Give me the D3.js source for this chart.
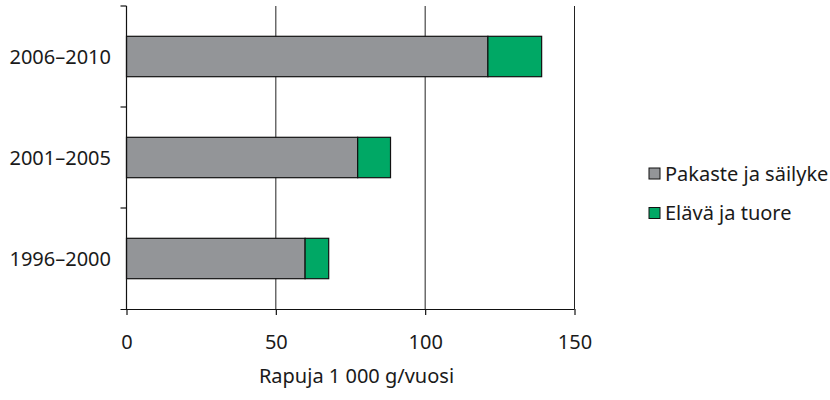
<!DOCTYPE html>
<html>
<head>
<meta charset="utf-8">
<script src="https://cdn.jsdelivr.net/npm/d3@7"></script>
<style>
  body { margin: 0; background: #fff; }
  text { font-family: "Noto Sans", sans-serif; fill: #1a1a1a; }
</style>
</head>
<body>
<div id="chart"></div>
<script>
const periods = ['2006–2010', '2001–2005', '1996–2000'];
const seriesNames = ['Pakaste ja säilyke', 'Elävä ja tuore'];
const frozen = [121, 77.4, 59.8];
const fresh = [18, 11, 7.9];
const xTicks = [0, 50, 100, 150];
const colors = ['#939598', '#00a865'];

const W = 830, H = 400;
const mLeft = 126.5, mRight = 574.5, mTop = 6, mBottom = 309;
const fs = '20px';

const svg = d3.select('#chart').append('svg').attr('width', W).attr('height', H);

const x = d3.scaleLinear().domain([0, 150]).range([mLeft, mRight]);
const y = d3.scaleBand().domain(periods).range([mTop, mBottom]).paddingInner(0.6).paddingOuter(0.3);
const yb = d3.scaleBand().domain(periods).range([mTop, mBottom]);

const rows = periods.map((p, i) => ({period: p, a: frozen[i], b: fresh[i]}));
const stack = d3.stack().keys(['a', 'b'])(rows);

// gridlines
svg.append('g').selectAll('line').data(xTicks.slice(1)).enter().append('line')
    .attr('x1', d => x(d)).attr('x2', d => x(d)).attr('y1', mTop).attr('y2', mBottom)
    .attr('stroke', '#222').attr('stroke-width', 1);

// bars
svg.append('g').selectAll('g').data(stack).enter().append('g')
    .attr('fill', (d, i) => colors[i])
    .selectAll('rect').data(d => d).enter().append('rect')
    .attr('x', d => x(d[0])).attr('width', d => x(d[1]) - x(d[0]))
    .attr('y', d => y(d.data.period)).attr('height', y.bandwidth())
    .attr('stroke', '#111').attr('stroke-width', 1.2);

// y axis
const yAxis = svg.append('g');
yAxis.append('line').attr('x1', mLeft).attr('x2', mLeft).attr('y1', mTop).attr('y2', mBottom)
    .attr('stroke', '#111').attr('stroke-width', 1.2);
yAxis.selectAll('.tk').data(periods).enter().append('line')
    .attr('x1', mLeft - 6).attr('x2', mLeft).attr('y1', d => yb(d)).attr('y2', d => yb(d))
    .attr('stroke', '#111').attr('stroke-width', 1.2);
yAxis.selectAll('text').data(periods).enter().append('text')
    .attr('x', 111).attr('y', d => y(d) + y.bandwidth() / 2).attr('dy', '0.35em')
    .attr('text-anchor', 'end').style('font-size', fs).text(d => d);

// x axis
const xAxis = svg.append('g').attr('transform', `translate(0, ${mBottom})`)
    .call(d3.axisBottom(x).tickValues(xTicks).tickSize(6).tickPadding(20).tickSizeOuter(0));
xAxis.select('.domain').attr('d', `M${mLeft - 6},0.5H${mRight}`).attr('stroke', '#111').attr('stroke-width', 1.2);
xAxis.selectAll('.tick line').attr('stroke', '#111').attr('stroke-width', 1.2);
xAxis.selectAll('.tick text').style('font-size', fs).style('font-family', '"Noto Sans", sans-serif').attr('fill', '#1a1a1a');

svg.append('text').attr('x', (mLeft + mRight) / 2 + 6).attr('y', 383).attr('text-anchor', 'middle')
    .style('font-size', fs).text('Rapuja 1 000 g/vuosi');

// legend
const legend = svg.append('g').attr('transform', 'translate(649, 168)');
seriesNames.forEach((name, i) => {
    const g = legend.append('g').attr('transform', `translate(0, ${i * 39.5})`);
    g.append('rect').attr('width', 11).attr('height', 11).attr('fill', colors[i])
        .attr('stroke', '#111').attr('stroke-width', 1);
    g.append('text').attr('x', 16).attr('y', 12.5)
        .style('font-size', fs).text(name);
});
</script>
</body>
</html>
